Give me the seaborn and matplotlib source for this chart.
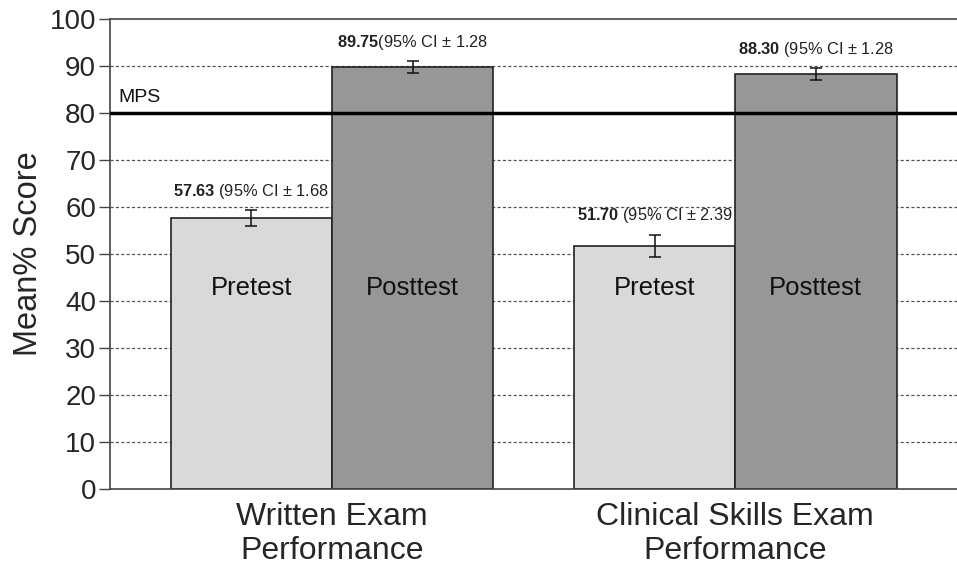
import matplotlib
matplotlib.use("Agg")
import matplotlib.pyplot as plt
import seaborn as sns
import pandas as pd

groups = ["Written Exam\nPerformance", "Clinical Skills Exam\nPerformance"]
tests = ["Pretest", "Posttest"]
pretest_means = [57.63, 51.70]
posttest_means = [89.75, 88.30]
pretest_ci = [1.68, 2.39]
posttest_ci = [1.28, 1.28]
mps_value = 80
yticks = [0, 10, 20, 30, 40, 50, 60, 70, 80, 90, 100]

rows = []
for g, m, c in zip(groups, pretest_means, pretest_ci):
    rows.append({"Group": g, "Test": "Pretest", "Mean": m, "CI": c})
for g, m, c in zip(groups, posttest_means, posttest_ci):
    rows.append({"Group": g, "Test": "Posttest", "Mean": m, "CI": c})
df = pd.DataFrame(rows)

sns.set_theme(style="white")
plt.rcParams["font.family"] = ["Liberation Sans", "DejaVu Sans"]
plt.rcParams["mathtext.fontset"] = "custom"
plt.rcParams["mathtext.rm"] = "Liberation Sans"
plt.rcParams["mathtext.bf"] = "Liberation Sans:bold"

fig = plt.figure(figsize=(9.57, 5.68), dpi=100)
ax = fig.add_axes([0.115, 0.139, 0.885, 0.8275])

# grid lines (dashed) behind bars
for t in yticks[1:-1]:
    if t == mps_value:
        continue
    ax.axhline(t, color="#555555", lw=0.9, ls=(0, (2.5, 1.8)), zorder=0)

sns.barplot(data=df, x="Group", y="Mean", hue="Test", order=groups, hue_order=tests,
            palette={"Pretest": "#d9d9d9", "Posttest": "#979797"},
            edgecolor="#222222", linewidth=1.2, width=0.8, errorbar=None,
            legend=False, ax=ax, zorder=2, saturation=1)

# MPS line
ax.axhline(mps_value, color="black", lw=2.5, zorder=3)
ax.text(0.0095, mps_value + 1.5, "MPS", transform=ax.get_yaxis_transform(),
        fontsize=14, ha="left", va="bottom", color="#111111")

# error bars and annotations
for cont, test in zip(ax.containers, tests):
    sub = df[df["Test"] == test].set_index("Group").loc[groups]
    for bar, (g, r) in zip(cont.patches, sub.iterrows()):
        xc = bar.get_x() + bar.get_width() / 2
        ax.errorbar(xc, r["Mean"], yerr=r["CI"], fmt="none", ecolor="#111111",
                    elinewidth=1.1, capsize=4, capthick=1.1, zorder=4)
        sep = "" if (test == "Posttest" and g == groups[0]) else " "
        label = r"$\mathbf{%.2f}$" % r["Mean"] + sep + "(95% CI ± {:.2f}".format(r["CI"])
        ax.text(xc, r["Mean"] + r["CI"] + 2.0, label, ha="center", va="bottom",
                fontsize=11.8, color="#222222", zorder=5)
        ax.text(xc, 42.7, test, ha="center", va="center", fontsize=18.5,
                color="#111111", zorder=5)

ax.set_xlim(-0.55, 1.55)
ax.set_ylim(0, 100)
ax.set_yticks(yticks)
ax.set_yticklabels([str(t) for t in yticks], fontsize=20)
ax.tick_params(axis="y", which="major", direction="out", length=8, width=1,
               color="#444444", left=True, pad=2)
ax.tick_params(axis="x", length=0, labelsize=23, pad=9)
for lbl in ax.get_xticklabels():
    lbl.set_linespacing(1.18)
ax.set_xlabel("")
ax.set_ylabel("Mean% Score", fontsize=23.5, labelpad=4)

for side in ["left", "bottom", "top"]:
    ax.spines[side].set_visible(True)
    ax.spines[side].set_color("#444444")
    ax.spines[side].set_linewidth(1.2)
ax.spines["right"].set_visible(False)

fig.savefig("out.png", dpi=100)
